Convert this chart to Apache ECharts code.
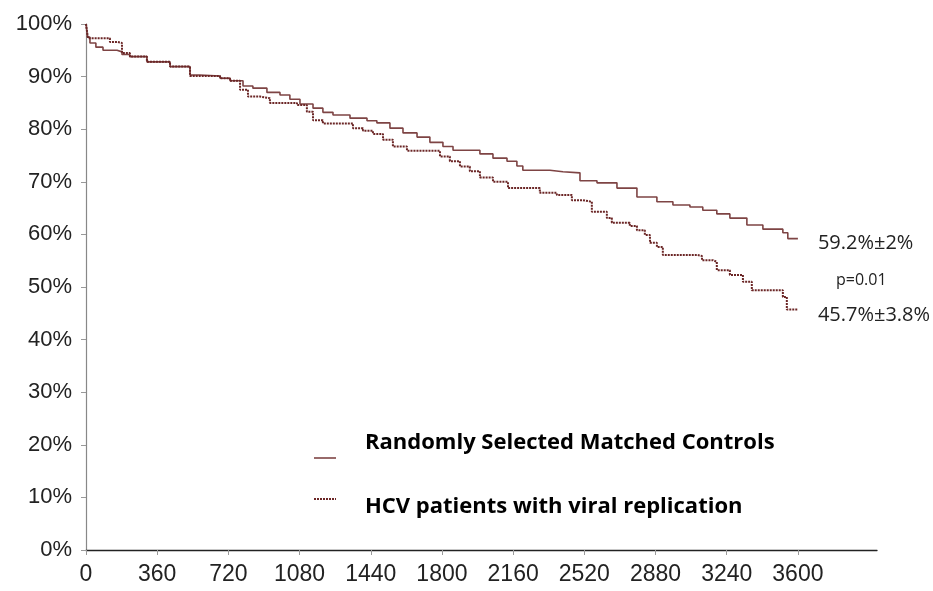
<!DOCTYPE html>
<html>
<head>
<meta charset="utf-8">
<script src="https://cdn.jsdelivr.net/npm/echarts@6/dist/echarts.min.js"></script>
<style>
  html, body { margin: 0; padding: 0; background: #ffffff; }
  #main { width: 933px; height: 591px; }
</style>
</head>
<body>
<div id="main"></div>
<script>
// Kaplan-Meier style survival, days vs %
var ctrlDays = [0, 8, 20, 50, 86, 157, 182, 222, 308, 425, 526, 576, 678, 728, 794, 844, 915, 981, 1031, 1082, 1148, 1198, 1249, 1335, 1421, 1471, 1537, 1603, 1674, 1739, 1805, 1856, 1992, 2058, 2129, 2179, 2209, 2346, 2412, 2498, 2584, 2685, 2786, 2887, 2968, 3054, 3119, 3190, 3256, 3342, 3423, 3524, 3549, 3600];
var ctrlSurv = [100, 97.5, 96.4, 95.6, 95.0, 94.7, 94.2, 93.8, 92.8, 91.9, 90.3, 90.1, 89.7, 89.2, 88.2, 87.8, 87.0, 86.5, 85.7, 84.8, 84.0, 83.2, 82.7, 82.1, 81.6, 81.2, 80.2, 79.3, 78.5, 77.5, 76.7, 76.0, 75.3, 74.5, 73.9, 73.0, 72.2, 71.9, 71.7, 70.2, 69.8, 68.8, 67.1, 66.2, 65.6, 65.2, 64.6, 63.9, 63.1, 61.8, 61.0, 60.3, 59.2, 59.2];

var hcvDays = [0, 10, 121, 157, 182, 222, 308, 425, 526, 678, 728, 779, 819, 880, 930, 1067, 1117, 1148, 1198, 1350, 1401, 1451, 1502, 1552, 1623, 1790, 1840, 1891, 1941, 1992, 2058, 2134, 2295, 2381, 2457, 2513, 2558, 2634, 2659, 2750, 2786, 2826, 2852, 2887, 2917, 3089, 3115, 3170, 3190, 3256, 3322, 3367, 3494, 3524, 3544, 3600];
var hcvSurv = [100, 97.3, 96.6, 96.4, 94.5, 93.8, 92.8, 91.9, 90.1, 89.7, 89.2, 87.5, 86.2, 85.9, 85.0, 84.6, 83.3, 81.7, 81.1, 80.2, 79.7, 79.1, 78.0, 76.7, 75.9, 74.8, 73.9, 72.9, 72.0, 70.8, 70.0, 68.8, 67.9, 67.5, 66.5, 66.2, 64.3, 63.1, 62.2, 61.6, 60.8, 59.9, 58.4, 57.6, 56.1, 55.9, 55.1, 54.8, 53.2, 52.3, 51.0, 49.4, 49.4, 48.1, 45.7, 45.7];

var xTicks = [0, 360, 720, 1080, 1440, 1800, 2160, 2520, 2880, 3240, 3600];
var yTicks = [0, 10, 20, 30, 40, 50, 60, 70, 80, 90, 100];

var seriesNames = ["Randomly Selected Matched Controls", "HCV patients with viral replication"];
var endTexts = ["59.2%±2%", "45.7%±3.8%"];
var pText = "p=0.01";

function zip(xs, ys) {
  var out = [];
  for (var i = 0; i < xs.length; i++) out.push([xs[i], ys[i]]);
  return out;
}

var solidColor = "#7e4444";
var dotColor = "#6b2626";

var chart = echarts.init(document.getElementById("main"));
var option = {
  animation: false,
  grid: { left: 86, right: 56, top: 24, bottom: 41 },
  xAxis: {
    type: "value",
    min: 0,
    max: 4000,
    interval: 360,
    splitLine: { show: false },
    axisLine: { show: true, lineStyle: { color: "#222", width: 1.3 } },
    axisTick: { show: true, length: 5, customValues: xTicks, lineStyle: { color: "#999" } },
    axisLabel: {
      customValues: xTicks,
      margin: 13,
      color: "#222",
      fontFamily: "Liberation Sans",
      fontSize: 23,
      formatter: function (v) { return String(v); }
    }
  },
  yAxis: {
    type: "value",
    min: 0,
    max: 100,
    interval: 10,
    splitLine: { show: false },
    axisLine: { show: true, lineStyle: { color: "#888", width: 1.2 } },
    axisTick: { show: true, length: 5, customValues: yTicks, lineStyle: { color: "#999" } },
    axisLabel: {
      customValues: yTicks,
      margin: 14,
      color: "#222",
      fontFamily: "Liberation Sans",
      fontSize: 22,
      formatter: "{value}%"
    }
  },
  series: [
    {
      name: seriesNames[0],
      type: "line",
      step: "end",
      symbol: "none",
      clip: false,
      data: zip(ctrlDays, ctrlSurv),
      lineStyle: { color: solidColor, width: 1.6 },
      endLabel: {
        show: true,
        formatter: endTexts[0],
        distance: 20,
        color: "#222",
        fontFamily: "Open Sans",
        fontSize: 20,
        offset: [0, 5]
      }
    },
    {
      name: seriesNames[1],
      type: "line",
      step: "end",
      symbol: "none",
      clip: false,
      data: zip(hcvDays, hcvSurv),
      lineStyle: { color: dotColor, width: 2, type: [2, 1] },
      endLabel: {
        show: true,
        formatter: endTexts[1],
        distance: 20,
        color: "#222",
        fontFamily: "Open Sans",
        fontSize: 20,
        offset: [0, 6]
      }
    }
  ],
  graphic: [
    {
      type: "text",
      left: 836,
      top: 272,
      style: { text: pText, fill: "#222", font: "16px 'Open Sans'" }
    },
    // legend
    {
      type: "line",
      shape: { x1: 314, y1: 458, x2: 336, y2: 458 },
      style: { stroke: solidColor, lineWidth: 1.6 }
    },
    {
      type: "text",
      left: 365,
      top: 432,
      style: { text: seriesNames[0], fill: "#000", font: "bold 22px 'Open Sans'" }
    },
    {
      type: "line",
      shape: { x1: 314, y1: 499, x2: 336, y2: 499 },
      style: { stroke: dotColor, lineWidth: 2, lineDash: [2, 1] }
    },
    {
      type: "text",
      left: 365,
      top: 496,
      style: { text: seriesNames[1], fill: "#000", font: "bold 22px 'Open Sans'" }
    }
  ]
};
chart.setOption(option);
</script>
</body>
</html>
